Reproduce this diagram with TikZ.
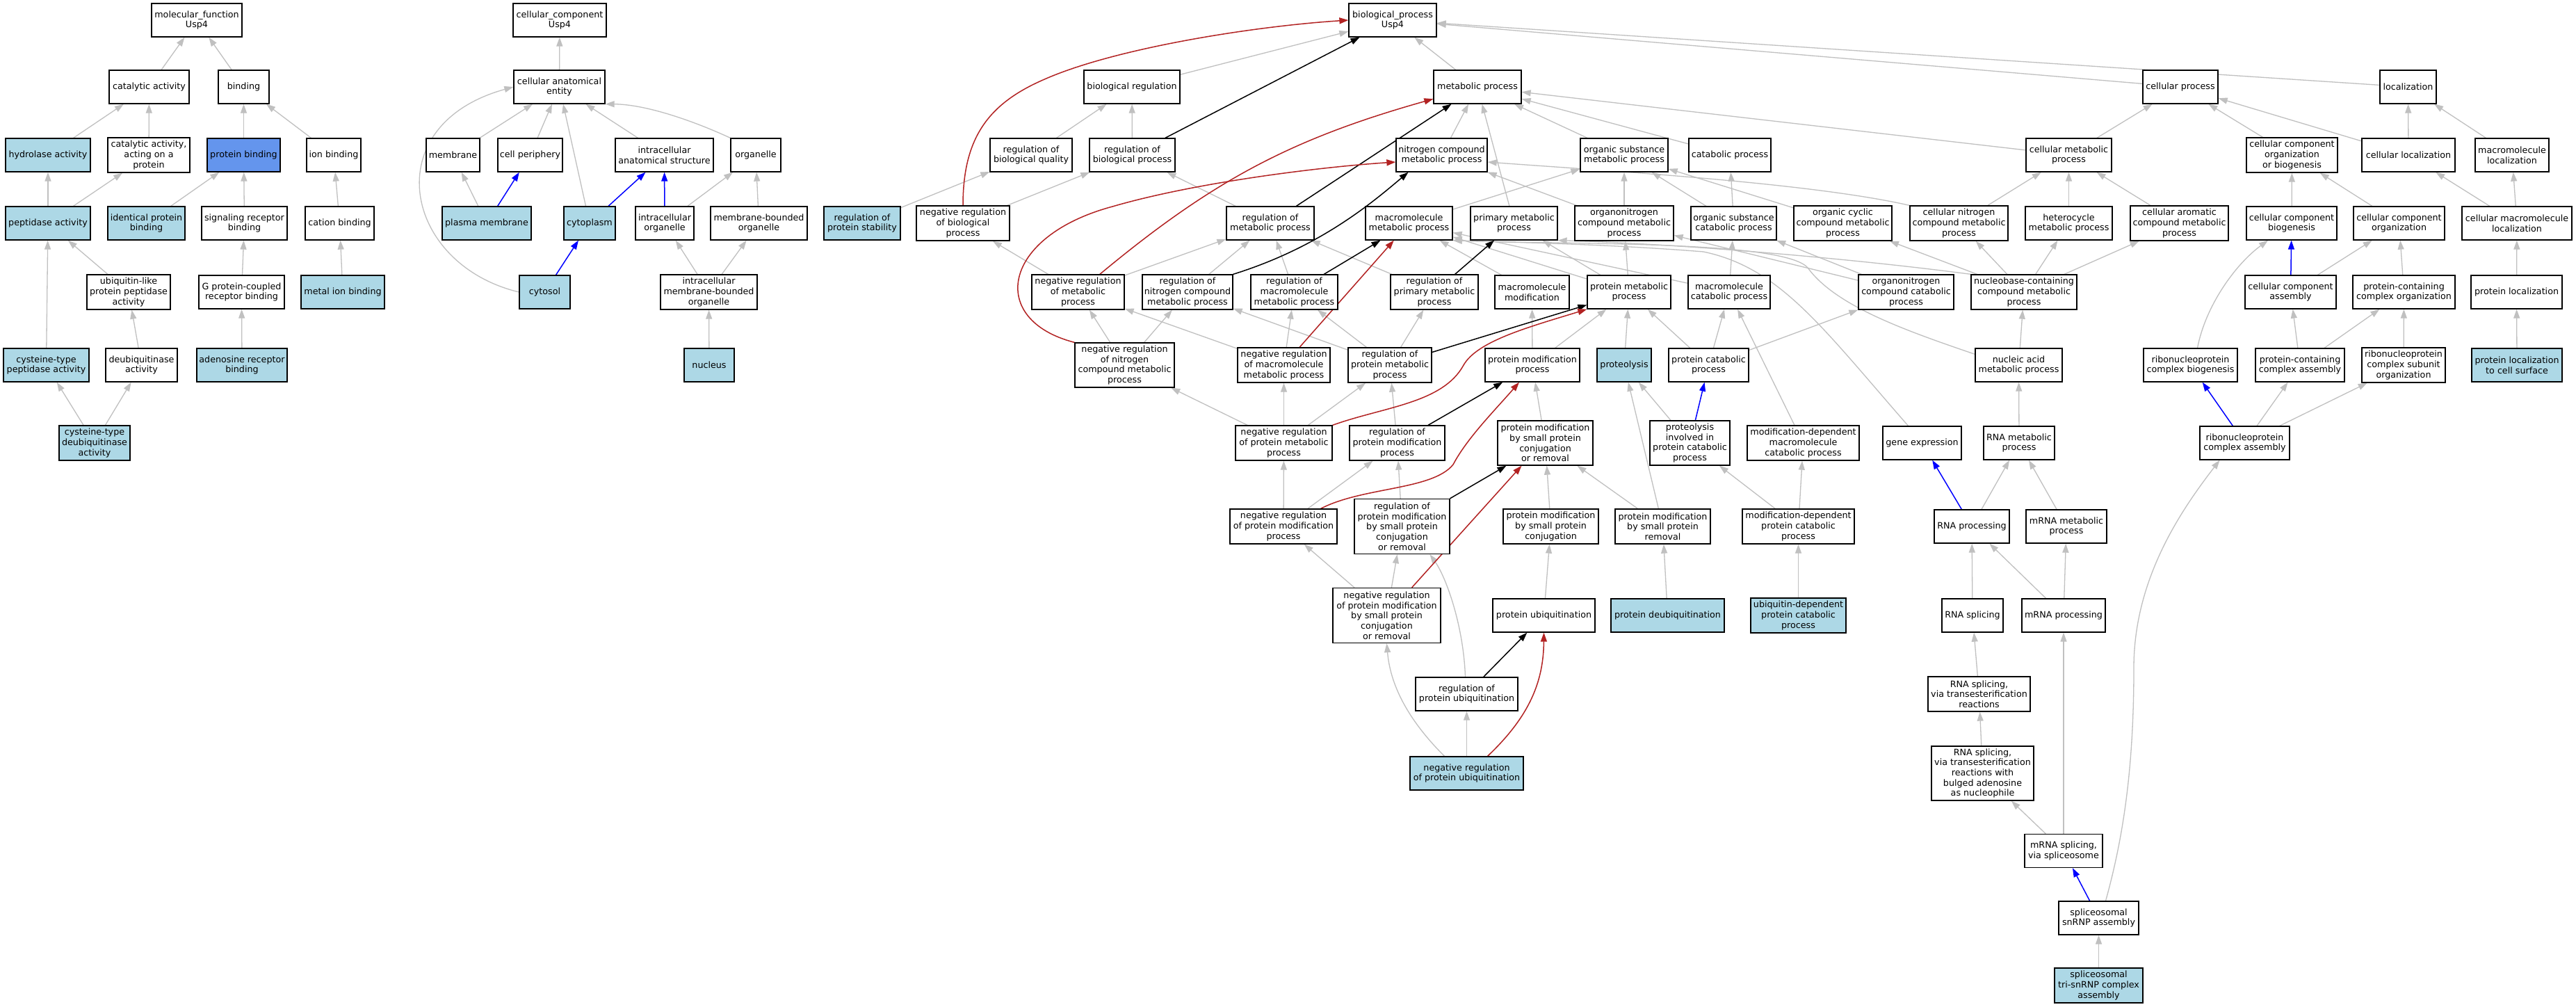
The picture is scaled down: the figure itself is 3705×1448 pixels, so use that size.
\documentclass[tikz,border=0pt]{standalone}
\usepackage{fontspec}
\setmainfont{DejaVu Sans}
\usetikzlibrary{arrows.meta,backgrounds}
\definecolor{edgegray}{RGB}{192,192,192}
\definecolor{fbr}{RGB}{178,34,34}
\definecolor{lb}{RGB}{173,216,230}
\definecolor{cfb}{RGB}{100,149,237}
\definecolor{pblue}{RGB}{0,0,255}
\newcommand\gonode[7]{\node[gobox,minimum width=#4,minimum height=#5,fill=#7] (#1) at (#2,#3) {#6};}
\begin{document}
\begin{tikzpicture}[x=1pt,y=-1pt,
 gobox/.style={draw=black,line width=1.3pt,rectangle,align=center,inner xsep=1.5pt,inner ysep=2pt,font=\fontsize{12.7}{14.7}\selectfont,text=black},
 gotip/.style={-{Triangle[length=13pt,width=9pt]}},
 isa/.style={draw=edgegray,line width=1.3pt,gotip},
 reg/.style={draw=black,line width=1.5pt,gotip},
 nreg/.style={draw=fbr,line width=1.5pt,gotip},
 partof/.style={draw=pblue,line width=1.5pt,gotip}]
\useasboundingbox (0,0) rectangle (3705,1448);
% ---------- molecular function
\gonode{mf}{283}{29}{130}{48}{molecular\_function\\Usp4}{white}
\gonode{cat}{214.5}{125}{115}{48}{catalytic activity}{white}
\gonode{bind}{350.5}{125}{73}{48}{binding}{white}
\gonode{hydro}{69}{223}{122}{48}{hydrolase activity}{lb}
\gonode{catp}{214}{223}{118}{50}{catalytic activity,\\acting on a\\protein}{white}
\gonode{pbind}{350.5}{223}{105}{48}{protein binding}{cfb}
\gonode{ionb}{480}{223}{78}{48}{ion binding}{white}
\gonode{pept}{69}{321}{122}{48}{peptidase activity}{lb}
\gonode{idpb}{210.5}{321}{111}{48}{identical protein\\binding}{lb}
\gonode{sigr}{351.5}{321}{123}{48}{signaling receptor\\binding}{white}
\gonode{catb}{488.5}{321}{99}{48}{cation binding}{white}
\gonode{ubpp}{185}{420}{120}{50}{ubiquitin-like\\protein peptidase\\activity}{white}
\gonode{gpcr}{347.5}{420}{123}{48}{G protein-coupled\\receptor binding}{white}
\gonode{metb}{493}{420}{120}{48}{metal ion binding}{lb}
\gonode{cysp}{66.5}{525}{123}{48}{cysteine-type\\peptidase activity}{lb}
\gonode{deub}{203.5}{525}{103}{48}{deubiquitinase\\activity}{white}
\gonode{adeno}{348}{525}{130}{48}{adenosine receptor\\binding}{lb}
\gonode{cysd}{136}{637}{102}{50}{cysteine-type\\deubiquitinase\\activity}{lb}
% ---------- cellular component
\gonode{cc}{805}{29}{134}{48}{cellular\_component\\Usp4}{white}
\gonode{cae}{804.5}{125}{131}{48}{cellular anatomical\\entity}{white}
\gonode{memb}{651.5}{223}{77}{48}{membrane}{white}
\gonode{cper}{762.5}{223}{93}{48}{cell periphery}{white}
\gonode{ias}{955.5}{223}{141}{48}{intracellular\\anatomical structure}{white}
\gonode{org}{1087}{223}{72}{48}{organelle}{white}
\gonode{pm}{700}{321}{128}{48}{plasma membrane}{lb}
\gonode{cyto}{848}{321}{74}{48}{cytoplasm}{lb}
\gonode{io}{956}{321}{84}{48}{intracellular\\organelle}{white}
\gonode{mbo}{1091.5}{321}{139}{48}{membrane-bounded\\organelle}{white}
\gonode{cytosol}{783.5}{420}{73}{48}{cytosol}{lb}
\gonode{imbo}{1019.5}{420}{139}{50}{intracellular\\membrane-bounded\\organelle}{white}
\gonode{nuc}{1020}{525}{72}{48}{nucleus}{lb}
% ---------- biological process
\gonode{bp}{2003}{29}{126}{48}{biological\_process\\Usp4}{white}
\gonode{breg}{1628}{125}{138}{48}{biological regulation}{white}
\gonode{mp}{2125}{125}{126}{48}{metabolic process}{white}
\gonode{cp}{3136}{125}{108}{48}{cellular process}{white}
\gonode{loc}{3463.5}{125}{81}{48}{localization}{white}
\gonode{rbq}{1483}{223}{118}{48}{regulation of\\biological quality}{white}
\gonode{rbp}{1628.5}{223}{123}{48}{regulation of\\biological process}{white}
\gonode{ncmp}{2073.5}{223}{131}{48}{nitrogen compound\\metabolic process}{white}
\gonode{osmp}{2336}{223}{126}{48}{organic substance\\metabolic process}{white}
\gonode{catp2}{2488}{223}{118}{48}{catabolic process}{white}
\gonode{cmp}{2975.5}{223}{123}{48}{cellular metabolic\\process}{white}
\gonode{ccob}{3296.5}{223}{131}{50}{cellular component\\organization\\or biogenesis}{white}
\gonode{cloc}{3464}{223}{134}{48}{cellular localization}{white}
\gonode{mloc}{3613}{223}{106}{48}{macromolecule\\localization}{white}
\gonode{rps}{1240}{321}{110}{48}{regulation of\\protein stability}{lb}
\gonode{nrbp}{1385}{321}{134}{50}{negative regulation\\of biological\\process}{white}
\gonode{rmp}{1827}{321}{126}{48}{regulation of\\metabolic process}{white}
\gonode{mmp}{2026.5}{321}{125}{48}{macromolecule\\metabolic process}{white}
\gonode{pmp}{2177.5}{321}{125}{48}{primary metabolic\\process}{white}
\gonode{oncmp}{2336}{321}{142}{50}{organonitrogen\\compound metabolic\\process}{white}
\gonode{oscp}{2493.5}{321}{123}{48}{organic substance\\catabolic process}{white}
\gonode{occmp}{2650.5}{321}{141}{50}{organic cyclic\\compound metabolic\\process}{white}
\gonode{cncmp}{2817.5}{321}{141}{50}{cellular nitrogen\\compound metabolic\\process}{white}
\gonode{hmp}{2975.5}{321}{125}{48}{heterocycle\\metabolic process}{white}
\gonode{cacmp}{3134.5}{321}{141}{50}{cellular aromatic\\compound metabolic\\process}{white}
\gonode{ccbio}{3296}{321}{130}{48}{cellular component\\biogenesis}{white}
\gonode{ccorg}{3450.5}{321}{131}{48}{cellular component\\organization}{white}
\gonode{cmloc}{3620}{321}{158}{48}{cellular macromolecule\\localization}{white}
\gonode{nrmp}{1550.5}{420}{133}{50}{negative regulation\\of metabolic\\process}{white}
\gonode{rncmp}{1708}{420}{130}{50}{regulation of\\nitrogen compound\\metabolic process}{white}
\gonode{rmmp}{1861.5}{420}{125}{50}{regulation of\\macromolecule\\metabolic process}{white}
\gonode{rpmp}{2063}{420}{126}{50}{regulation of\\primary metabolic\\process}{white}
\gonode{mmod}{2203.5}{420}{107}{48}{macromolecule\\modification}{white}
\gonode{protmp}{2343}{420}{120}{48}{protein metabolic\\process}{white}
\gonode{mcp}{2487}{420}{118}{48}{macromolecule\\catabolic process}{white}
\gonode{onccp}{2741.5}{420}{137}{50}{organonitrogen\\compound catabolic\\process}{white}
\gonode{nbcmp}{2911}{420}{152}{50}{nucleobase-containing\\compound metabolic\\process}{white}
\gonode{cca}{3294.5}{420}{131}{48}{cellular component\\assembly}{white}
\gonode{pcco}{3457.5}{420}{147}{48}{protein-containing\\complex organization}{white}
\gonode{ploc}{3619.5}{420}{131}{48}{protein localization}{white}
\gonode{nrncmp}{1617.5}{525}{143}{64}{negative regulation\\of nitrogen\\compound metabolic\\process}{white}
\gonode{nrmmp}{1846.5}{525}{133}{50}{negative regulation\\of macromolecule\\metabolic process}{white}
\gonode{rprmp}{1999}{525}{120}{50}{regulation of\\protein metabolic\\process}{white}
\gonode{pmodp}{2204}{525}{136}{48}{protein modification\\process}{white}
\gonode{proteo}{2336}{525}{78}{48}{proteolysis}{lb}
\gonode{pcatp}{2457.5}{525}{115}{48}{protein catabolic\\process}{white}
\gonode{namp}{2903.5}{525}{125}{48}{nucleic acid\\metabolic process}{white}
\gonode{rcb}{3150.5}{525}{135}{48}{ribonucleoprotein\\complex biogenesis}{white}
\gonode{pcca}{3308}{525}{128}{48}{protein-containing\\complex assembly}{white}
\gonode{rcso}{3457}{525}{120}{50}{ribonucleoprotein\\complex subunit\\organization}{white}
\gonode{plcs}{3620}{525}{130}{48}{protein localization\\to cell surface}{lb}
\gonode{nrprmp}{1846.5}{637}{139}{50}{negative regulation\\of protein metabolic\\process}{white}
\gonode{rpmod}{2009.5}{637}{137}{50}{regulation of\\protein modification\\process}{white}
\gonode{pmspcr}{2222.5}{637}{137}{64}{protein modification\\by small protein\\conjugation\\or removal}{white}
\gonode{picp}{2430.5}{637}{115}{64}{proteolysis\\involved in\\protein catabolic\\process}{white}
\gonode{mdmcp}{2593.5}{637}{161}{50}{modification-dependent\\macromolecule\\catabolic process}{white}
\gonode{gexp}{2764.5}{637}{113}{48}{gene expression}{white}
\gonode{rnamp}{2904}{637}{102}{48}{RNA metabolic\\process}{white}
\gonode{rnpca}{3228.5}{637}{129}{48}{ribonucleoprotein\\complex assembly}{white}
\gonode{nrpmod}{1846}{757}{154}{50}{negative regulation\\of protein modification\\process}{white}
\gonode{rpmsp}{2016.5}{757}{137}{79}{regulation of\\protein modification\\by small protein\\conjugation\\or removal}{white}
\gonode{pmspc}{2230.5}{757}{137}{50}{protein modification\\by small protein\\conjugation}{white}
\gonode{pmspr}{2391.5}{757}{137}{50}{protein modification\\by small protein\\removal}{white}
\gonode{mdpcp}{2586.5}{757}{161}{50}{modification-dependent\\protein catabolic\\process}{white}
\gonode{rnap}{2836}{757}{108}{48}{RNA processing}{white}
\gonode{mrnamp}{2972}{757}{116}{48}{mRNA metabolic\\process}{white}
\gonode{nrpmsp}{1994.5}{885}{155}{79}{negative regulation\\of protein modification\\by small protein\\conjugation\\or removal}{white}
\gonode{pubi}{2220.5}{885}{147}{48}{protein ubiquitination}{white}
\gonode{pdeubi}{2398.5}{885}{163}{48}{protein deubiquitination}{lb}
\gonode{udpcp}{2586.5}{885}{137}{50}{ubiquitin-dependent\\protein catabolic\\process}{lb}
\gonode{rnas}{2837}{885}{88}{48}{RNA splicing}{white}
\gonode{mrnap}{2968}{885}{120}{48}{mRNA processing}{white}
\gonode{rpubi}{2109.5}{998}{147}{48}{regulation of\\protein ubiquitination}{white}
\gonode{rnast}{2846.5}{998}{147}{50}{RNA splicing,\\via transesterification\\reactions}{white}
\gonode{nrpubi}{2109.5}{1112}{163}{48}{negative regulation\\of protein ubiquitination}{lb}
\gonode{rnasb}{2851.5}{1112}{147}{78}{RNA splicing,\\via transesterification\\reactions with\\bulged adenosine\\as nucleophile}{white}
\gonode{mrnas}{2968}{1223.5}{112}{48}{mRNA splicing,\\via spliceosome}{white}
\gonode{ssa}{3018.5}{1320}{115}{48}{spliceosomal\\snRNP assembly}{white}
\gonode{stsa}{3018.5}{1417}{127}{50}{spliceosomal\\tri-snRNP complex\\assembly}{lb}
% ---------- connectors
\begin{scope}[on background layer]
\fill[white] (0,0) rectangle (3705,1448);
\foreach \a/\b in {cat/mf,bind/mf,hydro/cat,catp/cat,pbind/bind,ionb/bind,pept/hydro,pept/catp,
 idpb/pbind,sigr/pbind,catb/ionb,cysp/pept,ubpp/pept,deub/ubpp,gpcr/sigr,adeno/gpcr,metb/catb,
 cysd/cysp,cysd/deub,
 cae/cc,memb/cae,cper/cae,cyto/cae,ias/cae,pm/memb,io/org,mbo/org,imbo/io,imbo/mbo,nuc/imbo,
 breg/bp,mp/bp,cp/bp,loc/bp,rbq/breg,rbp/breg,rps/rbq,nrbp/rbp,rmp/rbp,ncmp/mp,osmp/mp,catp2/mp,
 cmp/mp,pmp/mp,cmp/cp,ccob/cp,cloc/cp,cloc/loc,mloc/loc,ccbio/ccob,ccorg/ccob,cmloc/cloc,cmloc/mloc,
 ploc/cmloc,plcs/ploc,cca/ccorg,pcco/ccorg,pcca/cca,pcca/pcco,rcso/pcco,rnpca/pcca,rnpca/rcso,
 mmp/osmp,oncmp/ncmp,oncmp/osmp,oscp/osmp,oscp/catp2,occmp/osmp,cncmp/cmp,hmp/cmp,cacmp/cmp,
 nrmp/rmp,nrmp/nrbp,rncmp/rmp,rmmp/rmp,rpmp/rmp,mmod/mmp,protmp/mmp,protmp/pmp,protmp/oncmp,
 mcp/mmp,mcp/oscp,onccp/oncmp,onccp/oscp,nbcmp/occmp,nbcmp/cncmp,nbcmp/hmp,nbcmp/cacmp,
 nrncmp/nrmp,nrncmp/rncmp,nrmmp/nrmp,nrmmp/rmmp,rprmp/rncmp,rprmp/rmmp,rprmp/rpmp,
 pmodp/mmod,pmodp/protmp,proteo/protmp,pcatp/protmp,pcatp/mcp,pcatp/onccp,namp/nbcmp,
 nrprmp/nrncmp,nrprmp/nrmmp,nrprmp/rprmp,rpmod/rprmp,pmspcr/pmodp,picp/proteo,mdmcp/mcp,
 rnamp/namp,nrpmod/nrprmp,nrpmod/rpmod,rpmsp/rpmod,pmspc/pmspcr,pmspr/pmspcr,pmspr/proteo,
 mdpcp/mdmcp,mdpcp/picp,rnap/rnamp,mrnamp/rnamp,nrpmsp/nrpmod,nrpmsp/rpmsp,pubi/pmspc,
 pdeubi/pmspr,udpcp/mdpcp,rnas/rnap,mrnap/mrnamp,mrnap/rnap,rnast/rnas,nrpubi/rpubi,
 rnasb/rnast,mrnas/rnasb,mrnas/mrnap,stsa/ssa}
 {\draw[isa] (\a) -- (\b);}
% curved is_a
\draw[isa] (cytosol.west) .. controls (580,380) and (540,180) .. (cae.west);
\draw[isa] (org.north west) .. controls (1000,175) and (930,150) .. (cae.south east);
\draw[isa] ([xshift=10pt]rcb.north) .. controls (3172,440) and (3215,380) .. ([xshift=-34pt]ccbio.south);
\draw[isa] ([xshift=10pt]ssa.north) .. controls (3055,1200) and (3069,1100) .. (3069,960) .. controls (3069,830) and (3140,730) .. ([xshift=-36pt]rnpca.south);
\draw[isa] ([xshift=-2pt]rpubi.north) .. controls (2105,900) and (2080,830) .. ([xshift=40pt]rpmsp.south);
\draw[isa] ([xshift=-32pt]nrpubi.north) .. controls (2030,1040) and (2000,990) .. (nrpmsp.south);
\draw[isa] ([xshift=-20pt]gexp.north) .. controls (2620,470) and (2560,385) .. (2450,362) .. controls (2300,350) and (2150,348) .. (mmp.south east);
\draw[isa] ([yshift=-9pt]namp.north west) .. controls (2740,475) and (2640,440) .. (2600,385) .. controls (2565,345) and (2250,352) .. (mmp.south east);
\draw[isa] (nbcmp.north west) .. controls (2650,370) and (2400,350) .. (pmp.south east);
\draw[isa] (cncmp.north west) .. controls (2600,262) and (2300,245) .. ([yshift=-10pt]ncmp.east);
% part_of
\foreach \a/\b in {pm/cper,cyto/ias,io/ias,cytosol/cyto,picp/pcatp,rnap/gexp,cca/ccbio,rnpca/rcb,ssa/mrnas}
 {\draw[partof] (\a) -- (\b);}
% regulates
\foreach \a/\b in {rbp/bp,rmp/mp,rmmp/mmp,rpmp/pmp,rprmp/protmp,rpmod/pmodp,rpmsp/pmspcr,rpubi/pubi}
 {\draw[reg] (\a) -- (\b);}
\draw[reg] (rncmp.north east) .. controls (1900,355) and (1975,290) .. ([xshift=-48pt]ncmp.south);
% negatively regulates
\draw[nreg] (nrbp.north) .. controls (1385,200) and (1420,150) .. (1500,115) .. controls (1600,70) and (1800,38) .. (bp.west);
\draw[nreg] (nrncmp.north west) .. controls (1420,460) and (1440,340) .. (1600,297) .. controls (1720,262) and (1900,240) .. ([yshift=-10pt]ncmp.west);
\draw[nreg] (nrmp) to[bend left=12] (mp);
\draw[nreg] (nrmmp) -- (mmp);
\draw[nreg] (nrprmp.north east) .. controls (1990,585) and (2075,580) .. (2105,525) .. controls (2125,490) and (2200,470) .. (protmp.south west);
\draw[nreg] ([xshift=-24pt]nrpmod.north east) .. controls (1960,700) and (2060,705) .. (2090,668) .. controls (2110,630) and (2150,590) .. ([xshift=-19pt]pmodp.south);
\draw[nreg] (nrpmsp) -- ([xshift=-34pt]pmspcr.south);
\draw[nreg] ([xshift=30pt]nrpubi.north) .. controls (2200,1030) and (2220,980) .. (pubi.south);
\end{scope}
\end{tikzpicture}
\end{document}
